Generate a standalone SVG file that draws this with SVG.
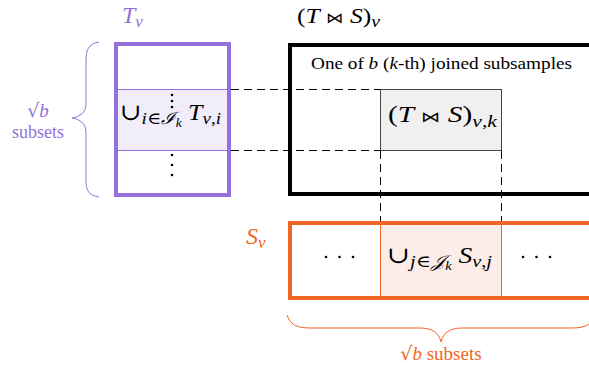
<svg xmlns="http://www.w3.org/2000/svg" width="589" height="371" viewBox="0 0 589 371">
<style>
text{font-family:"Liberation Serif","DejaVu Serif",serif;}
.it{font-style:italic;}
.pur{fill:#9370DB;}
.org{fill:#F26522;}
.bt{font-size:15px;font-style:normal;}
.sq{font-family:"DejaVu Serif",serif;}
.dash{stroke:#000;stroke-width:1;stroke-dasharray:8,5;fill:none;}
.dot{fill:#000;}
</style>
<rect width="589" height="371" fill="#fff"/>
<g id="T_box">
<rect x="116" y="89" width="113" height="61" fill="#F1EDFA"/>
<line x1="116" y1="89.5" x2="229" y2="89.5" stroke="#9370DB" stroke-width="1"/>
<line x1="116" y1="150.5" x2="229" y2="150.5" stroke="#9370DB" stroke-width="1"/>
<rect x="116" y="44" width="113" height="151" fill="none" stroke="#9370DB" stroke-width="4"/>
<circle class="dot" cx="172" cy="95" r="1.3"/>
<circle class="dot" cx="172" cy="101" r="1.3"/>
<circle class="dot" cx="172" cy="107" r="1.3"/>
<circle class="dot" cx="172" cy="155" r="1.3"/>
<circle class="dot" cx="172" cy="165" r="1.3"/>
<circle class="dot" cx="172" cy="175" r="1.3"/>
<text x="120" y="120" font-size="23" textLength="101" lengthAdjust="spacingAndGlyphs">∪<tspan font-size="17" dy="4" class="it">i</tspan><tspan font-size="17">∈</tspan><tspan font-size="17" class="it">ℐ</tspan><tspan font-size="12" dy="3" class="it">k</tspan><tspan font-size="23" dy="-7" class="it"> T</tspan><tspan font-size="17" dy="4" class="it">v</tspan><tspan font-size="17">,</tspan><tspan font-size="17" class="it">i</tspan></text>
<text x="122" y="23" font-size="24" class="pur it">T<tspan font-size="17" dy="4">v</tspan></text>
</g>
<g id="T_brace">
<path d="M99,42 C88,44 86,50 86,62 L86,104 C86,112 80,117 72,118 C80,119 86,124 86,132 L86,180 C86,190 88,195 99,197" fill="none" stroke="#9370DB" stroke-width="1"/>
<text x="38" y="117" font-size="19" class="pur" text-anchor="middle"><tspan class="sq">√</tspan><tspan class="it">b</tspan></text>
<text x="38" y="138" font-size="18" class="pur" text-anchor="middle" style="font-family:'Liberation Serif',serif">subsets</text>
</g>
<g id="Join_box">
<rect x="290" y="45" width="310" height="149" fill="none" stroke="#000" stroke-width="4"/>
<text x="311" y="69" font-size="17" textLength="261" lengthAdjust="spacingAndGlyphs">One of <tspan class="it">b</tspan> (<tspan class="it">k</tspan>-th) joined subsamples</text>
<text x="297" y="23" font-size="22" textLength="83" lengthAdjust="spacingAndGlyphs">(<tspan class="it">T</tspan> <tspan class="bt">⋈</tspan> <tspan class="it">S</tspan>)<tspan font-size="17" dy="4" class="it">v</tspan></text>
</g>
<g id="Join_k">
<rect x="380.5" y="89.5" width="121" height="61" fill="#F0F0F0" stroke="#444" stroke-width="1"/>
<text x="388" y="122" font-size="23" textLength="109" lengthAdjust="spacingAndGlyphs">(<tspan class="it">T</tspan> <tspan class="bt">⋈</tspan> <tspan class="it">S</tspan>)<tspan font-size="17" dy="5" class="it">v</tspan><tspan font-size="17">,</tspan><tspan font-size="17" class="it">k</tspan></text>
</g>
<g id="S_box">
<rect x="380" y="223" width="122" height="75" fill="#FCEDE8"/>
<line x1="380.5" y1="223" x2="380.5" y2="298" stroke="#F26522" stroke-width="1"/>
<line x1="501.5" y1="223" x2="501.5" y2="298" stroke="#F26522" stroke-width="1"/>
<rect x="290" y="223" width="310" height="75" fill="none" stroke="#F26522" stroke-width="4"/>
<circle class="dot" cx="326" cy="257" r="1.3"/>
<circle class="dot" cx="339.5" cy="257" r="1.3"/>
<circle class="dot" cx="353" cy="257" r="1.3"/>
<circle class="dot" cx="523" cy="257" r="1.3"/>
<circle class="dot" cx="536.5" cy="257" r="1.3"/>
<circle class="dot" cx="550" cy="257" r="1.3"/>
<text x="387" y="263" font-size="23" textLength="105" lengthAdjust="spacingAndGlyphs">∪<tspan font-size="17" dy="4" class="it">j</tspan><tspan font-size="17">∈</tspan><tspan font-size="17" class="it">𝒥</tspan><tspan font-size="12" dy="3" class="it">k</tspan><tspan font-size="23" dy="-7" class="it"> S</tspan><tspan font-size="17" dy="4" class="it">v</tspan><tspan font-size="17">,</tspan><tspan font-size="17" class="it">j</tspan></text>
<text x="246" y="244" font-size="24" class="org it">S<tspan font-size="17" dy="4">v</tspan></text>
</g>
<g id="S_brace">
<path d="M287,315 C290,324 296,328 310,328 L420,328 C432,328 439,333 441,342 C443,333 450,328 462,328 L572,328 C586,328 592,324 595,315" fill="none" stroke="#F26522" stroke-width="1"/>
<text x="441" y="360" font-size="19" class="org" text-anchor="middle"><tspan class="sq">√</tspan><tspan class="it">b</tspan><tspan style="font-family:'Liberation Serif',serif"> subsets</tspan></text>
</g>
<g id="connectors">
<line class="dash" x1="231" y1="89.5" x2="380" y2="89.5"/>
<line class="dash" x1="231" y1="150.5" x2="380" y2="150.5"/>
<line class="dash" x1="380.5" y1="151" x2="380.5" y2="221"/>
<line class="dash" x1="501.5" y1="151" x2="501.5" y2="221"/>
</g>
</svg>
